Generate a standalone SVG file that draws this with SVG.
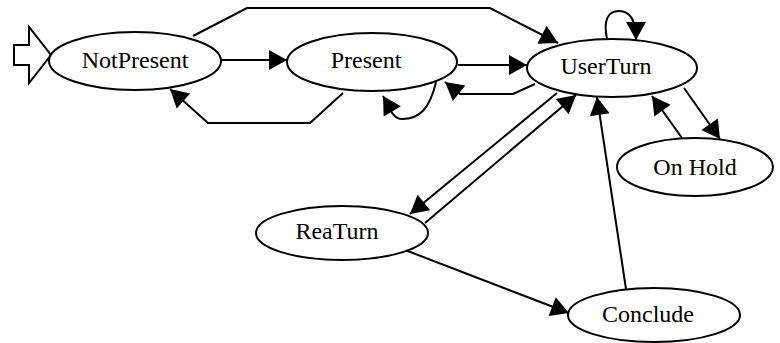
<svg xmlns="http://www.w3.org/2000/svg" width="780" height="343" viewBox="0 0 780 343">
<style>
.node ellipse{fill:#fff;stroke:#000;stroke-width:2}
.node text{font-family:"Liberation Serif","Times New Roman",serif;font-size:24px;fill:#000;text-anchor:middle}
.edge{fill:none;stroke:#000;stroke-width:2;marker-end:url(#ah)}
</style>
<defs>
<marker id="ah" markerUnits="userSpaceOnUse" markerWidth="20" markerHeight="22" refX="18" refY="10" orient="auto" overflow="visible">
<path d="M0,0 L18,10 L0,20 z" fill="#000"/>
</marker>
</defs>
<rect width="780" height="343" fill="#fff"/>
<g id="start">
<path d="M14,45 L29,45 L29,27 L51,55 L29,83 L29,65 L14,65 Z" fill="#fff" stroke="#000" stroke-width="2" stroke-linejoin="miter"/>
</g>
<g id="connectors">
<path class="edge" d="M221,60 L287,60"/>
<path class="edge" d="M193,36 L247,8 L490,8 L558,43"/>
<path class="edge" d="M343,93 L310,123 L208,123 L170,89"/>
<path class="edge" d="M458,65 L527,65"/>
<path class="edge" d="M535,84 L513,94 L460,94 L445,82"/>
<path class="edge" d="M436,82 C430,108 420,119 402,119 C392,119 389,106 383,96"/>
<path class="edge" d="M607,39 C603,20 608,11 619,11 C630,11 636,20 636,40"/>
<path class="edge" d="M684,88 L720,139"/>
<path class="edge" d="M682,138 L652,96"/>
<path class="edge" d="M557,93 L410,214"/>
<path class="edge" d="M425,223 L576,95"/>
<path class="edge" d="M405,250 L569,313"/>
<path class="edge" d="M626,289 L597,97"/>
</g>
<g id="NotPresent" class="node"><ellipse cx="135" cy="61" rx="86" ry="29"/><text x="135" y="68">NotPresent</text></g>
<g id="Present" class="node"><ellipse cx="372" cy="62" rx="85" ry="29"/><text x="366" y="68">Present</text></g>
<g id="UserTurn" class="node"><ellipse cx="612" cy="68" rx="85" ry="29"/><text x="606" y="74">UserTurn</text></g>
<g id="OnHold" class="node"><ellipse cx="695" cy="167" rx="78" ry="29"/><text x="695" y="175">On Hold</text></g>
<g id="ReaTurn" class="node"><ellipse cx="342" cy="233" rx="86" ry="27"/><text x="337" y="239">ReaTurn</text></g>
<g id="Conclude" class="node"><ellipse cx="654" cy="315" rx="86" ry="27"/><text x="648" y="322">Conclude</text></g>
</svg>
